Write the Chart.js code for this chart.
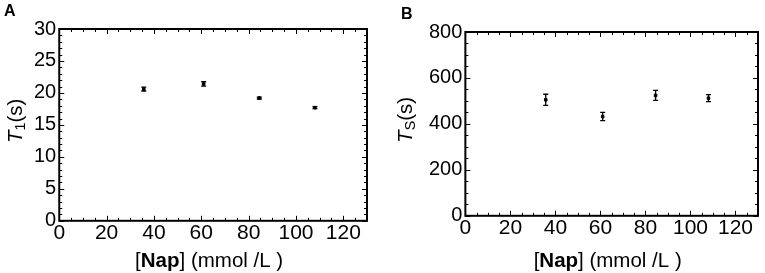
<!DOCTYPE html>
<html>
<head>
<meta charset="utf-8">
<script src="https://cdn.jsdelivr.net/npm/chart.js@4.4.0/dist/chart.umd.min.js"></script>
<style>
  html, body { margin: 0; padding: 0; background: #fff; }
  #wrap { position: relative; width: 765px; height: 273px; overflow: hidden; }
  .panel { position: absolute; top: 0; }
  .tag { position: absolute; font: bold 16px "Liberation Sans", Arial, sans-serif; color: #000; }
</style>
</head>
<body>
<div id="wrap">
  <div class="panel" style="left:0;width:382px;height:273px"><canvas id="chartA" width="382" height="273"></canvas></div>
  <div class="panel" style="left:382px;width:383px;height:273px"><canvas id="chartB" width="383" height="273"></canvas></div>
  <div class="tag" style="left:4px;top:2px">A</div>
  <div class="tag" style="left:401px;top:5px">B</div>
</div>
<script>
'use strict';

// naphthalene concentration (mmol/L)
const concentrations = [35.7, 61, 84.5, 108];
// panel A: T1 (s)
const t1Values = [20.6, 21.4, 19.2, 17.7];
const t1Errors = [0.3, 0.35, 0.15, 0.15];
// panel B: TS (s)
const tsValues = [505, 432, 524, 512];
const tsErrors = [24, 18, 22, 15];

const xTickValues = [0, 20, 40, 60, 80, 100, 120];
const t1TickValues = [0, 5, 10, 15, 20, 25, 30];
const tsTickValues = [0, 200, 400, 600, 800];

const FONT = '"Liberation Sans", Arial, sans-serif';

// draws the closed frame with inward ticks on all four sides
const framePlugin = {
  id: 'frame',
  afterDraw(chart, args, opts) {
    const { ctx, chartArea: a, scales } = chart;
    const xs = scales.x, ys = scales.y;
    ctx.save();
    ctx.strokeStyle = '#000';
    ctx.lineWidth = 1;
    ctx.beginPath();
    for (let v = xs.min; v <= xs.max + 1e-9; v += opts.xMinor) {
      const px = Math.round(xs.getPixelForValue(v)) + 0.5;
      const len = (Math.abs(v % opts.xMajor) < 1e-9) ? 5 : 3;
      ctx.moveTo(px, a.bottom); ctx.lineTo(px, a.bottom - len);
      ctx.moveTo(px, a.top); ctx.lineTo(px, a.top + len);
    }
    for (let v = ys.min; v <= ys.max + 1e-9; v += opts.yMinor) {
      const py = Math.round(ys.getPixelForValue(v)) + 0.5;
      const len = (Math.abs(v % opts.yMajor) < 1e-9) ? 5 : 3;
      ctx.moveTo(a.left, py); ctx.lineTo(a.left + len, py);
      ctx.moveTo(a.right, py); ctx.lineTo(a.right - len, py);
    }
    ctx.stroke();
    ctx.lineWidth = 2;
    ctx.strokeRect(a.left, a.top, a.right - a.left, a.bottom - a.top);
    ctx.restore();
  }
};

// vertical error bars with small caps
const errorBarPlugin = {
  id: 'errorBars',
  afterDatasetsDraw(chart) {
    const { ctx } = chart;
    const ys = chart.scales.y;
    ctx.save();
    ctx.strokeStyle = '#000';
    ctx.lineWidth = 1.3;
    chart.data.datasets.forEach((ds, di) => {
      const meta = chart.getDatasetMeta(di);
      meta.data.forEach((pt, i) => {
        const v = ds.data[i].y, e = ds.errors[i];
        const top = ys.getPixelForValue(v + e);
        const bot = ys.getPixelForValue(v - e);
        ctx.beginPath();
        ctx.moveTo(pt.x, top); ctx.lineTo(pt.x, bot);
        ctx.moveTo(pt.x - 2.5, top); ctx.lineTo(pt.x + 2.5, top);
        ctx.moveTo(pt.x - 2.5, bot); ctx.lineTo(pt.x + 2.5, bot);
        ctx.stroke();
      });
    });
    ctx.restore();
  }
};

// axis titles with mixed styles (italic symbol, subscript, bold word)
function drawRuns(ctx, runs, size) {
  let total = 0;
  runs.forEach(r => {
    const s = r.sub ? size * 0.7 : size;
    ctx.font = (r.italic ? 'italic ' : '') + (r.bold ? 'bold ' : '') + s + 'px ' + FONT;
    r.w = ctx.measureText(r.text).width;
    total += r.w;
  });
  let x = -total / 2;
  runs.forEach(r => {
    const s = r.sub ? size * 0.7 : size;
    ctx.font = (r.italic ? 'italic ' : '') + (r.bold ? 'bold ' : '') + s + 'px ' + FONT;
    ctx.fillText(r.text, x, r.sub ? size * 0.25 : 0);
    x += r.w;
  });
}

const titlePlugin = {
  id: 'richTitles',
  afterDraw(chart, args, opts) {
    const { ctx, chartArea: a } = chart;
    ctx.save();
    ctx.fillStyle = '#000';
    ctx.textBaseline = 'middle';
    ctx.translate((a.left + a.right) / 2 - 4, opts.xTitleY);
    drawRuns(ctx, opts.xRuns, opts.size);
    ctx.restore();
    ctx.save();
    ctx.fillStyle = '#000';
    ctx.textBaseline = 'middle';
    ctx.translate(opts.yTitleX, (a.top + a.bottom) / 2 - 4);
    ctx.rotate(-Math.PI / 2);
    drawRuns(ctx, opts.yRuns, opts.size);
    ctx.restore();
  }
};

const xRuns = () => [{ text: '[' }, { text: 'Nap', bold: true }, { text: '] (mmol /L )' }];

function makeChart(id, values, errors, yMax, yTicks, yMajor, yMinor, yRuns, padding, yTitleX) {
  return new Chart(document.getElementById(id), {
    type: 'scatter',
    data: {
      datasets: [{
        data: concentrations.map((c, i) => ({ x: c, y: values[i] })),
        errors: errors,
        backgroundColor: '#000',
        borderColor: '#000',
        pointRadius: 1.8,
        pointStyle: 'rect'
      }]
    },
    options: {
      responsive: false,
      animation: false,
      layout: { padding: padding },
      plugins: {
        legend: { display: false },
        tooltip: { enabled: false },
        frame: { xMajor: 20, xMinor: 5, yMajor: yMajor, yMinor: yMinor },
        richTitles: { xRuns: xRuns(), yRuns: yRuns, size: 20.5, xTitleY: 261, yTitleX: yTitleX }
      },
      scales: {
        x: {
          type: 'linear', min: 0, max: 130,
          afterBuildTicks: s => { s.ticks = xTickValues.map(v => ({ value: v })); },
          grid: { display: false, drawTicks: false },
          border: { display: false },
          ticks: { color: '#000', padding: 0, font: { family: FONT, size: 21 } }
        },
        y: {
          type: 'linear', min: 0, max: yMax,
          afterBuildTicks: s => { s.ticks = yTicks.map(v => ({ value: v })); },
          grid: { display: false, drawTicks: false },
          border: { display: false },
          ticks: { color: '#000', padding: 3, font: { family: FONT, size: 20 } }
        }
      }
    },
    plugins: [framePlugin, errorBarPlugin, titlePlugin]
  });
}

makeChart('chartA', t1Values, t1Errors, 30, t1TickValues, 5, 1,
  [{ text: 'T', italic: true }, { text: '1', sub: true }, { text: '(s)' }],
  { left: 31, right: 15, top: 29, bottom: 27 }, 16);

makeChart('chartB', tsValues, tsErrors, 800, tsTickValues, 200, 50,
  [{ text: 'T', italic: true }, { text: 'S', sub: true }, { text: '(s)' }],
  { left: 44, right: 7, top: 32, bottom: 32 }, 24);
</script>
</body>
</html>
